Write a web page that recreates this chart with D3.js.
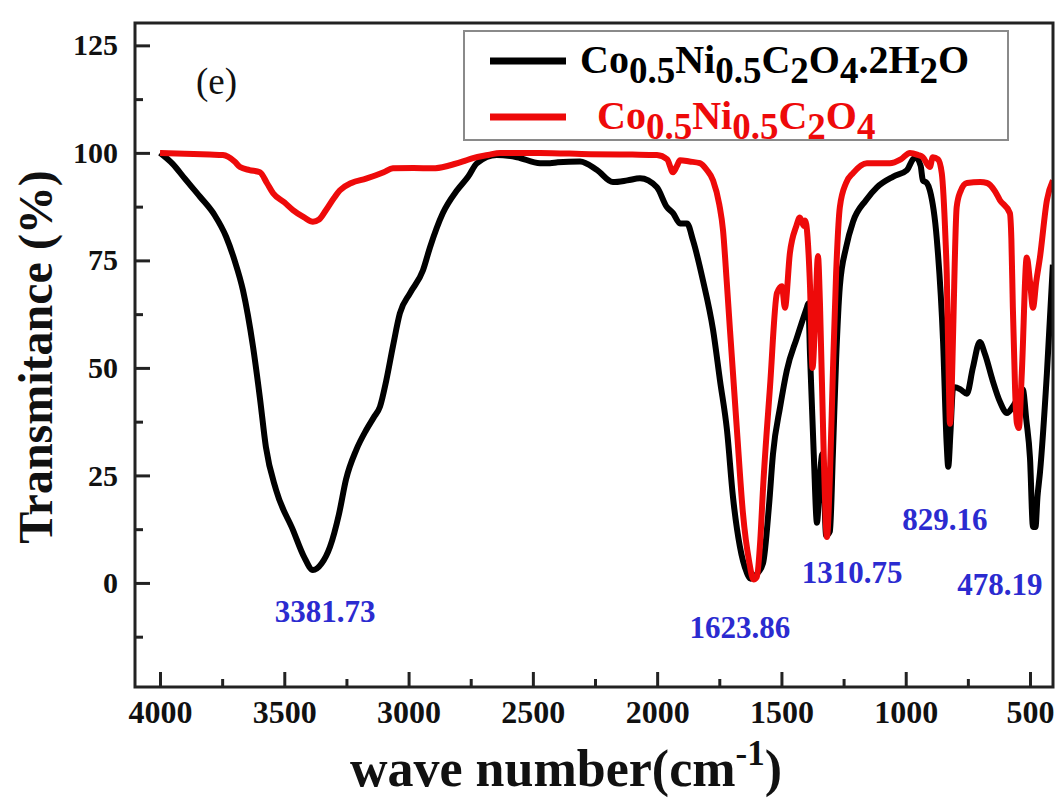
<!DOCTYPE html>
<html>
<head>
<meta charset="utf-8">
<script src="https://cdn.jsdelivr.net/npm/d3@7"></script>
<style>
  body { margin: 0; background: #fff; }
  text { font-family: "Liberation Serif", "Times New Roman", serif; }
</style>
</head>
<body>
<svg id="chart" width="1057" height="801"></svg>
<script>
// Co0.5Ni0.5C2O4.2H2O (black)
var hydrateWn = [4000,3950,3900,3839,3780,3734,3700,3666,3626,3598,3574,3533,3465,3420,3385,3350,3316,3280,3252,3210,3171,3140,3115,3090,3063,3035,2994,2942,2914,2862,2805,2760,2725,2645,2564,2471,2431,2400,2310,2242,2178,2120,2069,2001,1961,1936,1908,1880,1856,1816,1775,1747,1719,1695,1667,1640,1624,1600,1574,1550,1534,1505,1478,1438,1398,1392,1385,1370,1357,1345,1335,1320,1305,1293,1280,1265,1240,1212,1160,1116,1050,995,971,960,940,931,915,903,875,850,835,829,820,810,802,780,754,730,702,680,650,620,593,569,540,529,515,500,488,478,470,460,432,408];
var hydrateT = [100,97.5,94,89.8,85.5,80.5,75,68,55,43,31.6,21.6,12.3,6,3,4.5,8.4,16,24,31,35.5,38.5,41,47,55,62.7,67.4,72.7,78,86,91.3,94.5,97.6,99.5,99,97.6,97.6,97.8,98,96,93.2,93.6,94.1,92,87.4,86,83.6,83.6,79.7,70.4,58.8,47,35.5,20,8.4,2.5,1,2,4.6,18,30,41,49.5,57,64,65,53,30,14,25,30,11,12,30,52,69,78,84,89,92,94.5,96,98.5,99,97,93.6,93,91.3,80,56.5,32,27,35,45,45.5,45,44,50,56,53,47,42,39.5,41,44,45,38,29,13,13,20,25.6,48.8,74];

// Co0.5Ni0.5C2O4 (red)
var anhydWn = [4000,3900,3800,3747,3700,3678,3640,3598,3570,3545,3500,3465,3420,3385,3360,3332,3300,3276,3230,3171,3100,3063,2980,2902,2840,2781,2741,2680,2632,2471,2270,2100,2001,1960,1936,1920,1908,1870,1828,1800,1775,1750,1735,1720,1707,1679,1655,1630,1612,1599,1585,1574,1546,1518,1498,1486,1466,1440,1426,1410,1405,1385,1375,1365,1353,1345,1330,1317,1305,1293,1280,1265,1240,1212,1156,1064,1020,983,950,931,903,891,870,855,840,835,826,822,815,810,795,780,754,700,673,640,621,581,575,569,560,553,545,533,513,500,488,475,460,432,408];
var anhydT = [100,99.8,99.6,99.5,98,96.7,96,95.5,93,90.6,88.5,86.7,85,84,84.5,86.7,89.5,91.3,93,94,95.5,96.4,96.5,96.4,97,98,98.8,99.5,100,100,99.7,99.6,99.5,98.5,95.5,97,98.3,98,97.6,96,93.6,88,82,70,58.8,35.5,16.3,5,0.8,1.4,10,22,45.6,67.4,69,64,76.7,83,85,83,84.3,69,50,60,76,65,30,10.7,25,49,72,87.4,93,95.3,97.6,97.6,98.5,100,99.5,99,96.7,99,98.5,95.3,80,72,45,37,45,56.5,87.4,91,93,93.2,93,91,89,86,80,64,45,37.2,36,48.8,75.7,70,64,70,75.7,89,93.6];

var xTicks = [4000,3500,3000,2500,2000,1500,1000,500];
var xMinor = [3750,3250,2750,2250,1750,1250,750];
var yTicks = [0,25,50,75,100,125];
var yMinor = [-12.5,12.5,37.5,62.5,87.5,112.5];

var peakNames = ['3381.73','1623.86','1310.75','829.16','478.19'];
var peakLabelWn = [3336,1667,1216,842,621];
var peakLabelT = [-9.1,-12.8,0,12.3,-2.8];

var legendNames = [
  [['Co',0],['0.5',1],['Ni',0],['0.5',1],['C',0],['2',1],['O',0],['4',1],['.2H',0],['2',1],['O',0]],
  [['Co',0],['0.5',1],['Ni',0],['0.5',1],['C',0],['2',1],['O',0],['4',1]]
];
var legendColors = ['#000000','#ee0a0a'];

var svg = d3.select('#chart');
var plotL = 135, plotR = 1053, plotT = 23, plotB = 687;

var x = d3.scaleLinear().domain([4100.6, 407.5]).range([plotL, plotR]);
var y = d3.scaleLinear().domain([-24.2, 130.2]).range([plotB, plotT]);

svg.append('defs').append('clipPath').attr('id', 'plotClip')
  .append('rect')
    .attr('x', plotL).attr('y', plotT)
    .attr('width', plotR - plotL).attr('height', plotB - plotT);

// minor ticks
svg.append('g')
  .attr('transform', 'translate(0,' + plotB + ')')
  .call(d3.axisBottom(x).tickValues(xMinor).tickSize(-8).tickFormat(''))
  .call(function(g){ g.select('.domain').remove(); })
  .selectAll('line').attr('stroke', '#222').attr('stroke-width', 3);

svg.append('g')
  .attr('transform', 'translate(' + plotL + ',0)')
  .call(d3.axisLeft(y).tickValues(yMinor).tickSize(-8).tickFormat(''))
  .call(function(g){ g.select('.domain').remove(); })
  .selectAll('line').attr('stroke', '#222').attr('stroke-width', 3);

// major ticks with labels
var xAxis = svg.append('g')
  .attr('transform', 'translate(0,' + plotB + ')')
  .call(d3.axisBottom(x).tickValues(xTicks).tickSize(-15).tickPadding(13).tickFormat(d3.format('d')));
xAxis.select('.domain').remove();
xAxis.selectAll('line').attr('stroke', '#222').attr('stroke-width', 3);
xAxis.selectAll('text')
  .attr('font-family', '"Liberation Serif", serif')
  .attr('font-weight', 'bold')
  .attr('font-size', 32)
  .attr('fill', '#111');

var yAxis = svg.append('g')
  .attr('transform', 'translate(' + plotL + ',0)')
  .call(d3.axisLeft(y).tickValues(yTicks).tickSize(-15).tickPadding(17).tickFormat(d3.format('d')));
yAxis.select('.domain').remove();
yAxis.selectAll('line').attr('stroke', '#222').attr('stroke-width', 3);
yAxis.selectAll('text')
  .attr('font-family', '"Liberation Serif", serif')
  .attr('font-weight', 'bold')
  .attr('font-size', 30)
  .attr('fill', '#111');

// curves
var line = d3.line()
  .x(function(d){ return x(d[0]); })
  .y(function(d){ return y(d[1]); })
  .curve(d3.curveMonotoneX);

var plot = svg.append('g').attr('clip-path', 'url(#plotClip)');

plot.append('path')
  .datum(d3.zip(hydrateWn, hydrateT).reverse())
  .attr('d', line)
  .attr('fill', 'none')
  .attr('stroke', legendColors[0])
  .attr('stroke-width', 6)
  .attr('stroke-linejoin', 'round');

plot.append('path')
  .datum(d3.zip(anhydWn, anhydT).reverse())
  .attr('d', line)
  .attr('fill', 'none')
  .attr('stroke', legendColors[1])
  .attr('stroke-width', 6)
  .attr('stroke-linejoin', 'round');

// frame
svg.append('rect')
  .attr('x', plotL).attr('y', plotT)
  .attr('width', plotR - plotL).attr('height', plotB - plotT)
  .attr('fill', 'none')
  .attr('stroke', '#222')
  .attr('stroke-width', 3);

// peak labels
svg.append('g').selectAll('text')
  .data(peakNames)
  .enter().append('text')
    .attr('x', function(d, i){ return x(peakLabelWn[i]); })
    .attr('y', function(d, i){ return y(peakLabelT[i]); })
    .attr('text-anchor', 'middle')
    .attr('font-weight', 'bold')
    .attr('font-size', 31)
    .attr('fill', '#2b2bd0')
    .text(function(d){ return d; });

// panel tag
svg.append('text')
  .attr('x', 196).attr('y', 94)
  .attr('font-size', 37)
  .attr('fill', '#111')
  .text('(e)');

// legend
var legend = svg.append('g');
legend.append('rect')
  .attr('x', 464).attr('y', 31)
  .attr('width', 544).attr('height', 109)
  .attr('fill', '#fff')
  .attr('stroke', '#8a8a8a')
  .attr('stroke-width', 2);

var rowY = [61, 117];
var textX = [580, 597];
legendNames.forEach(function(parts, i) {
  legend.append('line')
    .attr('x1', 490).attr('x2', 566)
    .attr('y1', rowY[i]).attr('y2', rowY[i])
    .attr('stroke', legendColors[i])
    .attr('stroke-width', 7);
  var t = legend.append('text')
    .attr('x', textX[i]).attr('y', rowY[i] + 12)
    .attr('font-weight', 'bold')
    .attr('font-size', 40)
    .attr('fill', legendColors[i]);
  var shift = 0;
  parts.forEach(function(p) {
    var want = p[1] ? 10 : 0;
    t.append('tspan')
      .attr('dy', want - shift)
      .attr('font-size', p[1] ? 37 : 40)
      .text(p[0]);
    shift = want;
  });
});

// axis titles
svg.append('text')
  .attr('transform', 'translate(52,357) rotate(-90)')
  .attr('text-anchor', 'middle')
  .attr('font-weight', 'bold')
  .attr('font-size', 48)
  .attr('fill', '#111')
  .text('Transmitance (%)');

var xt = svg.append('text')
  .attr('x', 566).attr('y', 786)
  .attr('text-anchor', 'middle')
  .attr('font-weight', 'bold')
  .attr('font-size', 52)
  .attr('fill', '#111');
xt.append('tspan').text('wave number(cm');
xt.append('tspan').attr('dy', -21).attr('font-size', 35).text('-1');
xt.append('tspan').attr('dy', 21).text(')');
</script>
</body>
</html>
